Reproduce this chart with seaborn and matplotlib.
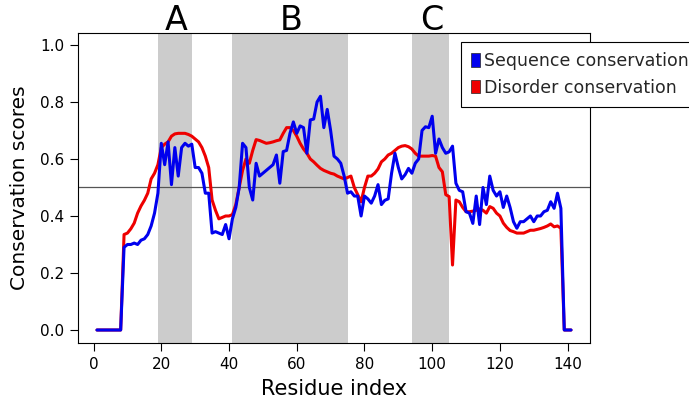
import matplotlib
matplotlib.use("Agg")
import matplotlib.pyplot as plt
import pandas as pd
import seaborn as sns
from matplotlib.patches import Patch
from matplotlib.transforms import blended_transform_factory

residue = list(range(1, 142))

sequence_conservation = [
    0, 0, 0, 0, 0, 0, 0, 0, 0.29, 0.30,
    0.30, 0.305, 0.30, 0.315, 0.32, 0.335, 0.365, 0.41, 0.48, 0.655,
    0.58, 0.66, 0.51, 0.64, 0.54, 0.64, 0.655, 0.645, 0.652, 0.57,
    0.57, 0.55, 0.48, 0.48, 0.34, 0.345, 0.34, 0.335, 0.37, 0.32,
    0.39, 0.43, 0.50, 0.655, 0.64, 0.50, 0.456, 0.585, 0.54, 0.55,
    0.56, 0.57, 0.58, 0.614, 0.515, 0.626, 0.63, 0.69, 0.73, 0.69,
    0.716, 0.71, 0.62, 0.737, 0.74, 0.80, 0.82, 0.71, 0.774, 0.70,
    0.61, 0.60, 0.585, 0.54, 0.48, 0.485, 0.47, 0.47, 0.40, 0.47,
    0.46, 0.445, 0.47, 0.51, 0.44, 0.455, 0.46, 0.55, 0.62, 0.57,
    0.53, 0.545, 0.567, 0.55, 0.585, 0.60, 0.70, 0.713, 0.71, 0.75,
    0.62, 0.67, 0.64, 0.62, 0.625, 0.645, 0.515, 0.49, 0.485, 0.415,
    0.41, 0.374, 0.47, 0.37, 0.50, 0.44, 0.54, 0.49, 0.47, 0.485,
    0.43, 0.47, 0.43, 0.38, 0.357, 0.38, 0.38, 0.39, 0.40, 0.38,
    0.40, 0.40, 0.415, 0.42, 0.45, 0.427, 0.48, 0.427, 0, 0,
    0,
]

disorder_conservation = [
    0, 0, 0, 0, 0, 0, 0, 0, 0.335, 0.34,
    0.355, 0.375, 0.41, 0.435, 0.455, 0.48, 0.53, 0.55, 0.58, 0.64,
    0.652, 0.66, 0.68, 0.688, 0.69, 0.69, 0.69, 0.686, 0.68, 0.67,
    0.66, 0.64, 0.61, 0.57, 0.456, 0.42, 0.39, 0.395, 0.40, 0.40,
    0.405, 0.44, 0.50, 0.56, 0.60, 0.585, 0.63, 0.668, 0.665, 0.66,
    0.655, 0.657, 0.66, 0.664, 0.667, 0.69, 0.71, 0.71, 0.70, 0.68,
    0.655, 0.635, 0.62, 0.60, 0.59, 0.578, 0.567, 0.56, 0.555, 0.55,
    0.547, 0.54, 0.535, 0.53, 0.535, 0.54, 0.50, 0.475, 0.45, 0.50,
    0.54, 0.54, 0.55, 0.565, 0.59, 0.60, 0.614, 0.62, 0.63, 0.64,
    0.645, 0.647, 0.643, 0.635, 0.62, 0.61, 0.61, 0.61, 0.61, 0.612,
    0.61, 0.57, 0.555, 0.475, 0.468, 0.228, 0.456, 0.45, 0.43, 0.415,
    0.415, 0.417, 0.42, 0.425, 0.42, 0.41, 0.433, 0.427, 0.41, 0.40,
    0.375, 0.36, 0.349, 0.345, 0.34, 0.34, 0.34, 0.345, 0.35, 0.35,
    0.353, 0.356, 0.36, 0.365, 0.372, 0.362, 0.365, 0.357, 0, 0,
    0,
]

series_names = ["Sequence conservation", "Disorder conservation"]
series_colors = ["#0000ee", "#ee0000"]
region_labels = ["A", "B", "C"]
region_start = [19, 41, 94]
region_end = [29, 75, 105]
cutoff = 0.5
x_ticks = [0, 20, 40, 60, 80, 100, 120, 140]
y_ticks = [0.0, 0.2, 0.4, 0.6, 0.8, 1.0]

df = pd.DataFrame({
    "Residue index": residue * 2,
    "Conservation scores": sequence_conservation + disorder_conservation,
    "Series": [series_names[0]] * len(residue) + [series_names[1]] * len(residue),
})

sns.set_theme(style="white")
plt.rcParams["font.family"] = ["DejaVu Sans"]

W, H = 689, 407
fig = plt.figure(figsize=(W / 100, H / 100), dpi=100)
L, R, T, B = 78, 590, 33, 343
ax = fig.add_axes([L / W, 1 - B / H, (R - L) / W, (B - T) / H])

for s, e in zip(region_start, region_end):
    ax.axvspan(s, e, color="#cccccc", lw=0, zorder=0)
ax.axhline(cutoff, color="#555555", lw=0.9, zorder=1)

palette = dict(zip(series_names, series_colors))
sns.lineplot(data=df, x="Residue index", y="Conservation scores", hue="Series",
             hue_order=[series_names[1], series_names[0]], palette=palette,
             lw=2.2, legend=False, ax=ax, zorder=2)

ax.set_xlim(-4.6, 146.6)
ax.set_ylim(-0.0456, 1.042)
ax.set_xticks(x_ticks)
ax.set_xticklabels([str(t) for t in x_ticks])
ax.set_yticks(y_ticks)
ax.set_yticklabels([f"{t:.1f}" for t in y_ticks])
ax.tick_params(direction="out", length=6, width=0.8, color="black",
               labelsize=11, labelcolor="black", bottom=True, left=True, pad=4)
for sp in ax.spines.values():
    sp.set_color("black")
    sp.set_linewidth(0.8)
ax.set_xlabel("Residue index", fontsize=15, color="black", labelpad=5)
ax.set_ylabel("Conservation scores", fontsize=14.5, color="black", labelpad=8)

trans = blended_transform_factory(ax.transData, ax.transAxes)
for lab, s, e in zip(region_labels, region_start, region_end):
    ax.text((s + e) / 2 + 0.5, 1.0 + 3 / (B - T), lab, transform=trans,
            ha="center", va="baseline", fontsize=24, color="black")

handles = [Patch(facecolor=c, edgecolor="#222222", lw=0.5, label=n)
           for n, c in zip(series_names, series_colors)]
leg = fig.legend(handles=handles, loc="upper left",
                 bbox_to_anchor=(460.5 / W, 1 - 41.7 / H), bbox_transform=fig.transFigure,
                 frameon=True, fancybox=False, framealpha=1, edgecolor="black",
                 fontsize=12.5, handlelength=0.5, handleheight=0.8, handletextpad=0.25,
                 borderpad=0.6, labelspacing=0.5, borderaxespad=0)
leg.get_frame().set_linewidth(0.8)

fig.savefig("out.png", dpi=100)
